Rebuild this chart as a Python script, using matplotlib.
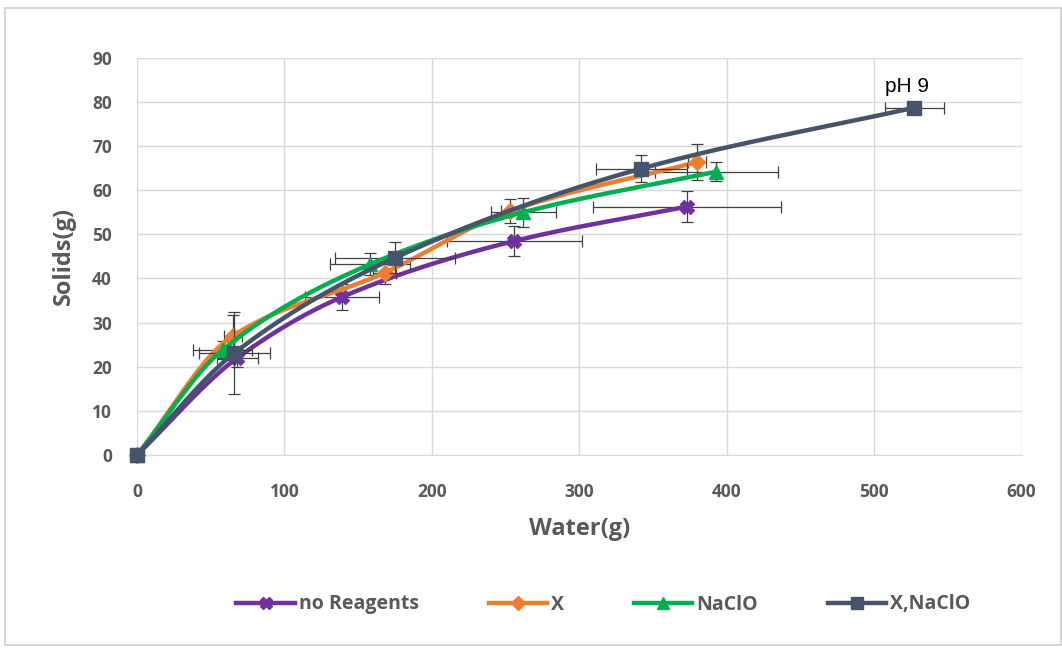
import numpy as np
import matplotlib.pyplot as plt
from matplotlib.patches import Rectangle

# Data
names = ['no Reagents', 'X', 'NaClO', 'X,NaClO']
colors = ['#7030A0', '#ED7D31', '#00B050', '#44546A']
markers = ['X', 'D', '^', 's']

water = [
    [0, 68, 139, 256, 373],
    [0, 65, 168, 253, 380],
    [0, 58, 158, 262, 393],
    [0, 66, 175, 342, 527],
]
solids = [
    [0, 22.0, 35.8, 48.5, 56.3],
    [0, 27.0, 41.3, 55.3, 66.4],
    [0, 23.8, 43.2, 55.0, 64.2],
    [0, 23.1, 44.7, 64.9, 78.7],
]
water_err = [
    [0, 14, 25, 46, 64],
    [0, 6, 8, 6, 6],
    [0, 20, 27, 22, 42],
    [0, 24, 41, 31, 20],
]
solids_err = [
    [0, 2.0, 3.0, 3.5, 3.5],
    [0, 4.7, 2.5, 2.7, 4.0],
    [0, 2.0, 2.5, 3.3, 2.2],
    [0, 9.2, 3.5, 3.0, 1.2],
]


def smooth(x, y, n=40):
    # monotone cubic (Fritsch-Carlson) through the points, for a smoothed line
    x = np.asarray(x, float)
    y = np.asarray(y, float)
    h = np.diff(x)
    d = np.diff(y) / h
    m = np.zeros_like(y)
    m[0], m[-1] = d[0], d[-1]
    for k in range(1, len(x) - 1):
        if d[k - 1] * d[k] > 0:
            w1 = 2 * h[k] + h[k - 1]
            w2 = h[k] + 2 * h[k - 1]
            m[k] = (w1 + w2) / (w1 / d[k - 1] + w2 / d[k])
    xs, ys = [], []
    for k in range(len(x) - 1):
        t = np.linspace(0, 1, n)
        h00 = 2 * t ** 3 - 3 * t ** 2 + 1
        h10 = t ** 3 - 2 * t ** 2 + t
        h01 = -2 * t ** 3 + 3 * t ** 2
        h11 = t ** 3 - t ** 2
        xs.append(x[k] + t * h[k])
        ys.append(h00 * y[k] + h10 * h[k] * m[k] + h01 * y[k + 1] + h11 * h[k] * m[k + 1])
    return np.concatenate(xs), np.concatenate(ys)


plt.rcParams['font.family'] = ['Open Sans', 'DejaVu Sans']
fig = plt.figure(figsize=(10.62, 6.5), dpi=100)
ax = fig.add_axes([0.129, 0.30, 0.833, 0.611])

fig.patches.append(Rectangle((0.005, 0.008), 0.994, 0.98, transform=fig.transFigure,
                             fill=False, edgecolor='#D0D0D0', linewidth=1.2))

for i in range(4):
    ax.errorbar(water[i], solids[i], xerr=water_err[i], yerr=solids_err[i], fmt='none',
                ecolor='#404040', elinewidth=0.9, capsize=4, capthick=0.9, zorder=2 + i)

for i in range(4):
    sx, sy = smooth(water[i], solids[i])
    ax.plot(sx, sy, color=colors[i], linewidth=3.2, zorder=3 + i, solid_capstyle='round')
    ms = 8 if markers[i] == 'D' else 9.5
    ax.plot(water[i], solids[i], linestyle='none', marker=markers[i], markersize=ms,
            color=colors[i], zorder=3 + i, clip_on=False)
    ax.plot([], [], color=colors[i], linewidth=3.2, marker=markers[i], markersize=ms - 1,
            label=names[i])

ax.text(522, 83.5, 'pH 9', fontsize=15, family='Liberation Sans', ha='center', va='center',
        color='black', zorder=10)

ax.set_xlim(0, 600)
ax.set_ylim(0, 90)
ax.set_xticks(range(0, 601, 100))
ax.set_yticks(range(0, 91, 10))
ax.grid(True, color='#D9D9D9', linewidth=1)
ax.set_axisbelow(True)
for s in ['top', 'right', 'left']:
    ax.spines[s].set_visible(False)
ax.spines['bottom'].set_color('#D9D9D9')
ax.tick_params(length=0, labelsize=12.5, labelcolor='#595959')
ax.tick_params(axis='x', pad=20)
ax.tick_params(axis='y', pad=18)
for lab in ax.get_xticklabels() + ax.get_yticklabels():
    lab.set_fontweight('bold')

ax.set_xlabel('Water(g)', fontsize=17, fontweight='bold', color='#595959', labelpad=12)
ax.set_ylabel('Solids(g)', fontsize=17, fontweight='bold', color='#595959', labelpad=12)

leg = fig.legend(loc='center', bbox_to_anchor=(0.568, 0.07), ncol=4, frameon=False,
                 handlelength=3, columnspacing=3.6, handletextpad=0.2,
                 prop={'weight': 'bold', 'size': 14})
for t in leg.get_texts():
    t.set_color('#595959')

fig.savefig('out.png', dpi=100)
